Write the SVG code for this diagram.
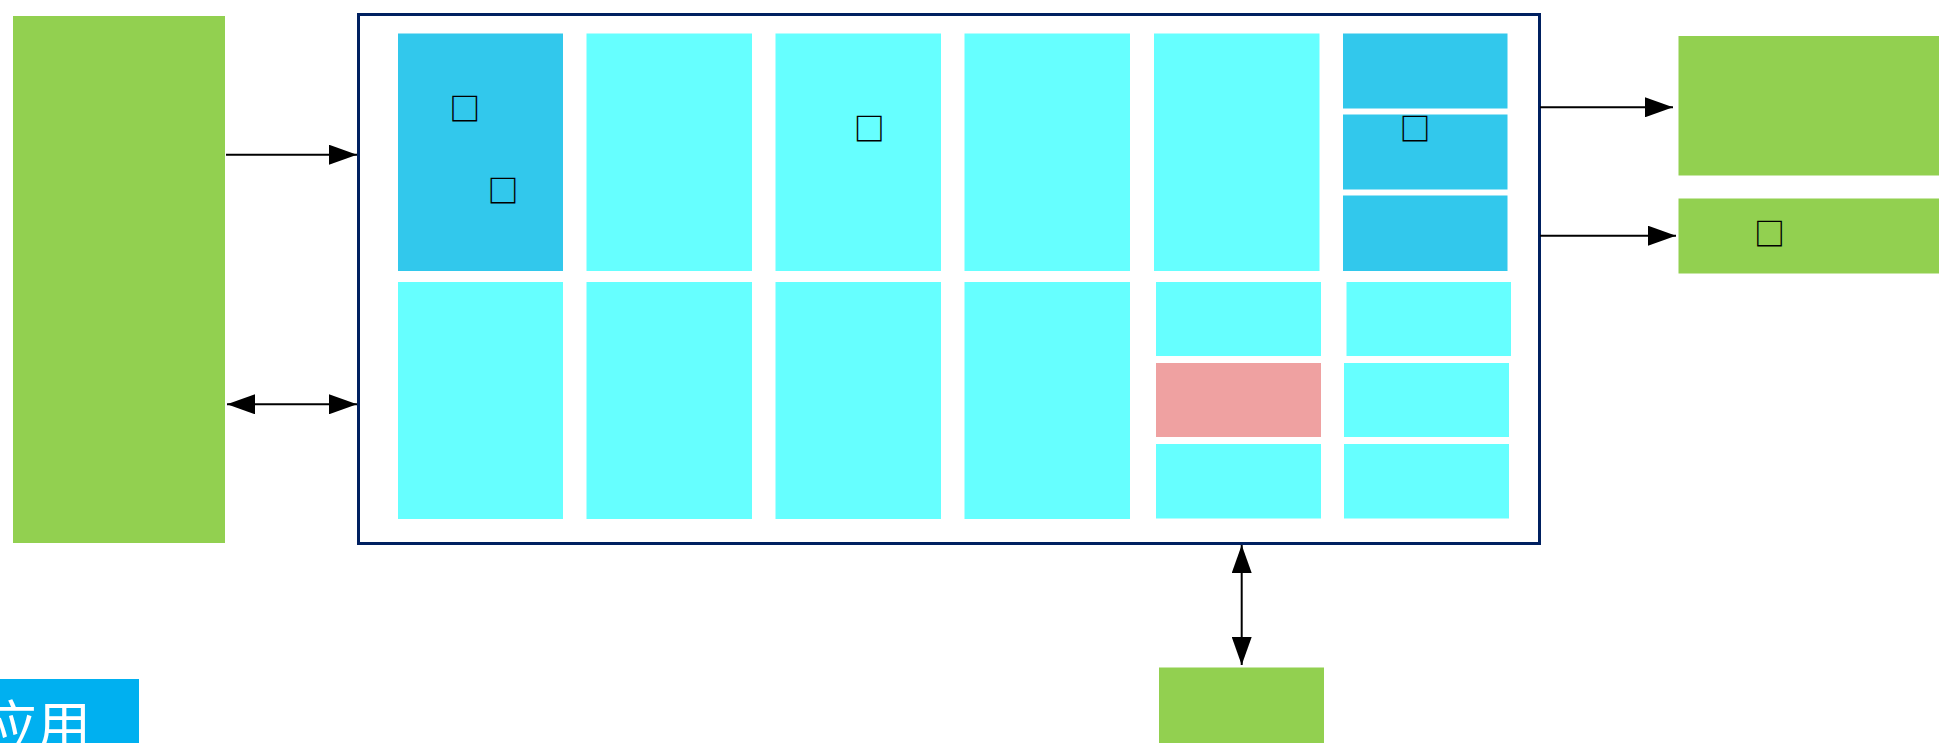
<svg xmlns="http://www.w3.org/2000/svg" width="1939" height="743" viewBox="0 0 1939 743">
<style>
.green{fill:#92D050}
.dk{fill:#32C8EC}
.cy{fill:#66FFFF}
.pk{fill:#EFA1A1}
.frame{fill:#FFFFFF;stroke:#002060;stroke-width:3}
.conn{stroke:#000;stroke-width:2;fill:none}
.tofu{font-family:"Noto Sans CJK SC","DejaVu Sans",sans-serif;font-size:31px;font-weight:bold;fill:#000;text-anchor:middle}
.app{font-family:"Noto Sans CJK SC",sans-serif;font-size:54px;fill:#FFFFFF;text-anchor:end}
</style>
<defs>
<marker id="ah" markerUnits="userSpaceOnUse" markerWidth="28" markerHeight="20" refX="28" refY="10" orient="auto-start-reverse">
<path d="M0,0 L28,10 L0,20 z" fill="#000"/>
</marker>
</defs>
<g id="left-box"><rect class="green" x="13" y="16" width="212" height="527"/></g>
<g id="main-frame"><rect class="frame" x="358.5" y="14.5" width="1181" height="529"/></g>
<g id="cell-r1c1"><rect class="dk" x="398" y="33.5" width="165" height="237.5"/>
<text class="tofu" x="464.7" y="119.5">□</text>
<text class="tofu" x="502.9" y="201.5">□</text></g>
<g id="cell-r1c2"><rect class="cy" x="586.5" y="33.5" width="165.5" height="237.5"/></g>
<g id="cell-r1c3"><rect class="cy" x="775.5" y="33.5" width="165.5" height="237.5"/>
<text class="tofu" x="869.3" y="139.5">□</text></g>
<g id="cell-r1c4"><rect class="cy" x="964.5" y="33.5" width="165.5" height="237.5"/></g>
<g id="cell-r1c5"><rect class="cy" x="1154" y="33.5" width="165.5" height="237.5"/></g>
<g id="cell-r1c6a"><rect class="dk" x="1343" y="33.5" width="164.5" height="75"/></g>
<g id="cell-r1c6b"><rect class="dk" x="1343" y="114.5" width="164.5" height="75"/>
<text class="tofu" x="1414.9" y="139.5">□</text></g>
<g id="cell-r1c6c"><rect class="dk" x="1343" y="195.5" width="164.5" height="75.5"/></g>
<g id="cell-r2c1"><rect class="cy" x="398" y="282" width="165" height="237"/></g>
<g id="cell-r2c2"><rect class="cy" x="586.5" y="282" width="165.5" height="237"/></g>
<g id="cell-r2c3"><rect class="cy" x="775.5" y="282" width="165.5" height="237"/></g>
<g id="cell-r2c4"><rect class="cy" x="964.5" y="282" width="165.5" height="237"/></g>
<g id="cell-r2c5a"><rect class="cy" x="1156" y="282" width="165" height="74"/></g>
<g id="cell-r2c5b"><rect class="pk" x="1156" y="363" width="165" height="74"/></g>
<g id="cell-r2c5c"><rect class="cy" x="1156" y="444" width="165" height="74.5"/></g>
<g id="cell-r2c6a"><rect class="cy" x="1346.5" y="282" width="164.5" height="74"/></g>
<g id="cell-r2c6b"><rect class="cy" x="1344" y="363" width="165" height="74"/></g>
<g id="cell-r2c6c"><rect class="cy" x="1344" y="444" width="165" height="74.5"/></g>
<g id="right-box-1"><rect class="green" x="1678.5" y="36" width="261" height="139.5"/></g>
<g id="right-box-2"><rect class="green" x="1678.5" y="198.5" width="261" height="75"/>
<text class="tofu" x="1769.4" y="244.5">□</text></g>
<g id="bottom-box"><rect class="green" x="1159" y="667.5" width="165" height="76"/></g>
<g id="app-label"><rect fill="#00B0F0" x="0" y="679" width="139" height="64"/>
<text class="app" x="91" y="746">应用</text></g>
<g id="connectors">
<line class="conn" x1="226" y1="154.7" x2="357" y2="154.7" marker-end="url(#ah)"/>
<line class="conn" x1="227" y1="404.3" x2="357" y2="404.3" marker-start="url(#ah)" marker-end="url(#ah)"/>
<line class="conn" x1="1540" y1="107.3" x2="1673" y2="107.3" marker-end="url(#ah)"/>
<line class="conn" x1="1540" y1="235.7" x2="1676" y2="235.7" marker-end="url(#ah)"/>
<line class="conn" x1="1241.7" y1="545" x2="1241.7" y2="665" marker-start="url(#ah)" marker-end="url(#ah)"/>
</g>
</svg>
